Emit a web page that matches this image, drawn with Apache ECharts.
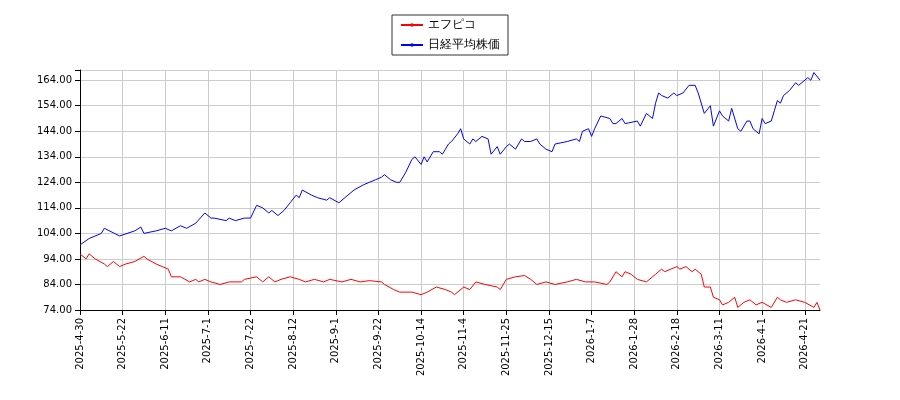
<!DOCTYPE html><html><head><meta charset="utf-8"><script src="https://cdn.jsdelivr.net/npm/echarts@6/dist/echarts.min.js"></script></head><body style="margin:0"><div id="c" style="width:900px;height:400px"></div><script>
const startDate='2025-04-30', endDate='2026-04-28';
const holidays=['2025-05-05','2025-05-06','2025-07-21','2025-08-11','2025-09-15','2025-09-23','2025-10-13','2025-11-03','2025-11-24','2025-12-31','2026-01-01','2026-01-02','2026-01-12','2026-02-11','2026-02-23','2026-03-20'];
const nikkeiIdx=[0,3,7,8,13,18,20,21,25,28,30,33,35,38,41,43,44,48,49,51,54,56,58,60,62,63,65,67,69,71,72,73,76,78,81,82,85,87,89,90,93,95,97,99,100,102,104,105,107,109,110,112,113,114,116,118,119,121,122,124,125,126,128,129,130,132,134,135,137,138,140,141,143,145,146,148,150,151,153,155,156,160,163,164,165,167,168,169,171,174,175,176,178,179,183,184,186,188,189,190,191,193,195,196,198,200,202,203,205,207,208,210,211,213,214,216,217,219,220,221,223,224,225,227,228,229,230,231,233,235,236,239,240,241,243];
const nikkeiVal=[99.5,102,104,106,103,105,106.5,104,105,106,105,107,106,108,112,110,110,109,110,109,110,110,115,114,112,113,111,113,116,119,118,121,119,118,117,118,116,118,120,121,123,124,125,126,127,125,124,124,128,133,134,131,134,132,136,136,135,139,140,143,145,141,139,141,140,142,141,135,138,135,138,139,137,141,140,140,141,139,137,136,139,140,141,140,144,145,142,145,150,149,147,147,149,147,148,146,151,149,155,159,158,157,159,158,159,162,162,159,151,154,146,152,150,148,153,145,144,148,148,145,143,149,147,148,152,156,155,158,160,163,162,165,164,167,164];
const efpIdx=[0,2,3,5,8,9,11,13,15,18,21,22,25,27,29,30,33,36,38,39,41,43,46,49,53,54,58,60,62,64,66,69,72,74,77,80,82,86,89,92,95,99,100,103,105,109,112,114,117,120,122,123,126,128,130,133,137,138,140,143,146,148,150,153,156,160,163,166,169,173,174,176,178,179,181,183,186,189,191,192,196,197,199,201,202,204,205,207,208,210,211,213,215,216,218,220,222,224,227,229,230,232,235,238,241,242,243];
const efpVal=[96,94,96,94,92,91,93,91,92,93,95,94,92,91,90,87,87,85,86,85,86,85,84,85,85,86,87,85,87,85,86,87,86,85,86,85,86,85,86,85,85.5,85,84,82,81,81,80,81,83,82,81,80,83,82,85,84,83,82,86,87,87.5,86,84,85,84,85,86,85,85,84,85,89,87,89,88,86,85,88,90,89,91,90,91,89,90,88,83,83,79,78,76,77,79,75,77,78,76,77,75,79,78,77,78,77,75,77,74];
const cats=[];
for(let d=new Date(startDate+'T00:00:00Z');d<=new Date(endDate+'T00:00:00Z');d.setUTCDate(d.getUTCDate()+1)){
 const w=d.getUTCDay(); const s=d.toISOString().slice(0,10);
 if(w===0||w===6||holidays.includes(s))continue;
 cats.push(d.getUTCFullYear()+'-'+(d.getUTCMonth()+1)+'-'+d.getUTCDate());
}
const ch=echarts.init(document.getElementById('c'));
ch.setOption({animation:false,
 legend:{top:15,left:'center',orient:'vertical',borderColor:'#333',borderWidth:1,borderRadius:0,padding:[4,8],itemWidth:22,itemHeight:2,textStyle:{fontSize:12,color:'#000'},data:['エフピコ','日経平均株価']},
 grid:{left:80,right:80,top:70,bottom:90},
 xAxis:{type:'category',data:cats,boundaryGap:false,axisLine:{lineStyle:{color:'#000'}},
  axisTick:{interval:13,lineStyle:{color:'#000'}},axisLabel:{interval:13,rotate:90,fontSize:10,color:'#000',fontFamily:'DejaVu Sans'},
  splitLine:{show:true,interval:13,lineStyle:{color:'#ccc'}}},
 yAxis:{type:'value',min:74,max:168,interval:10,axisLine:{show:true,lineStyle:{color:'#000'}},axisTick:{show:true},
  axisLabel:{color:'#000',fontSize:10,fontFamily:'DejaVu Sans',formatter:v=>v>=168?'':v.toFixed(2)},splitLine:{lineStyle:{color:'#ccc'}}},
 series:[
  {name:'エフピコ',type:'line',showSymbol:false,lineStyle:{width:1,color:'#f00'},itemStyle:{color:'#f00'},data:efpIdx.map((i,k)=>[i,efpVal[k]])},
  {name:'日経平均株価',type:'line',showSymbol:false,lineStyle:{width:1,color:'#00f'},itemStyle:{color:'#00f'},data:nikkeiIdx.map((i,k)=>[i,nikkeiVal[k]])}
 ]});
</script></body></html>
